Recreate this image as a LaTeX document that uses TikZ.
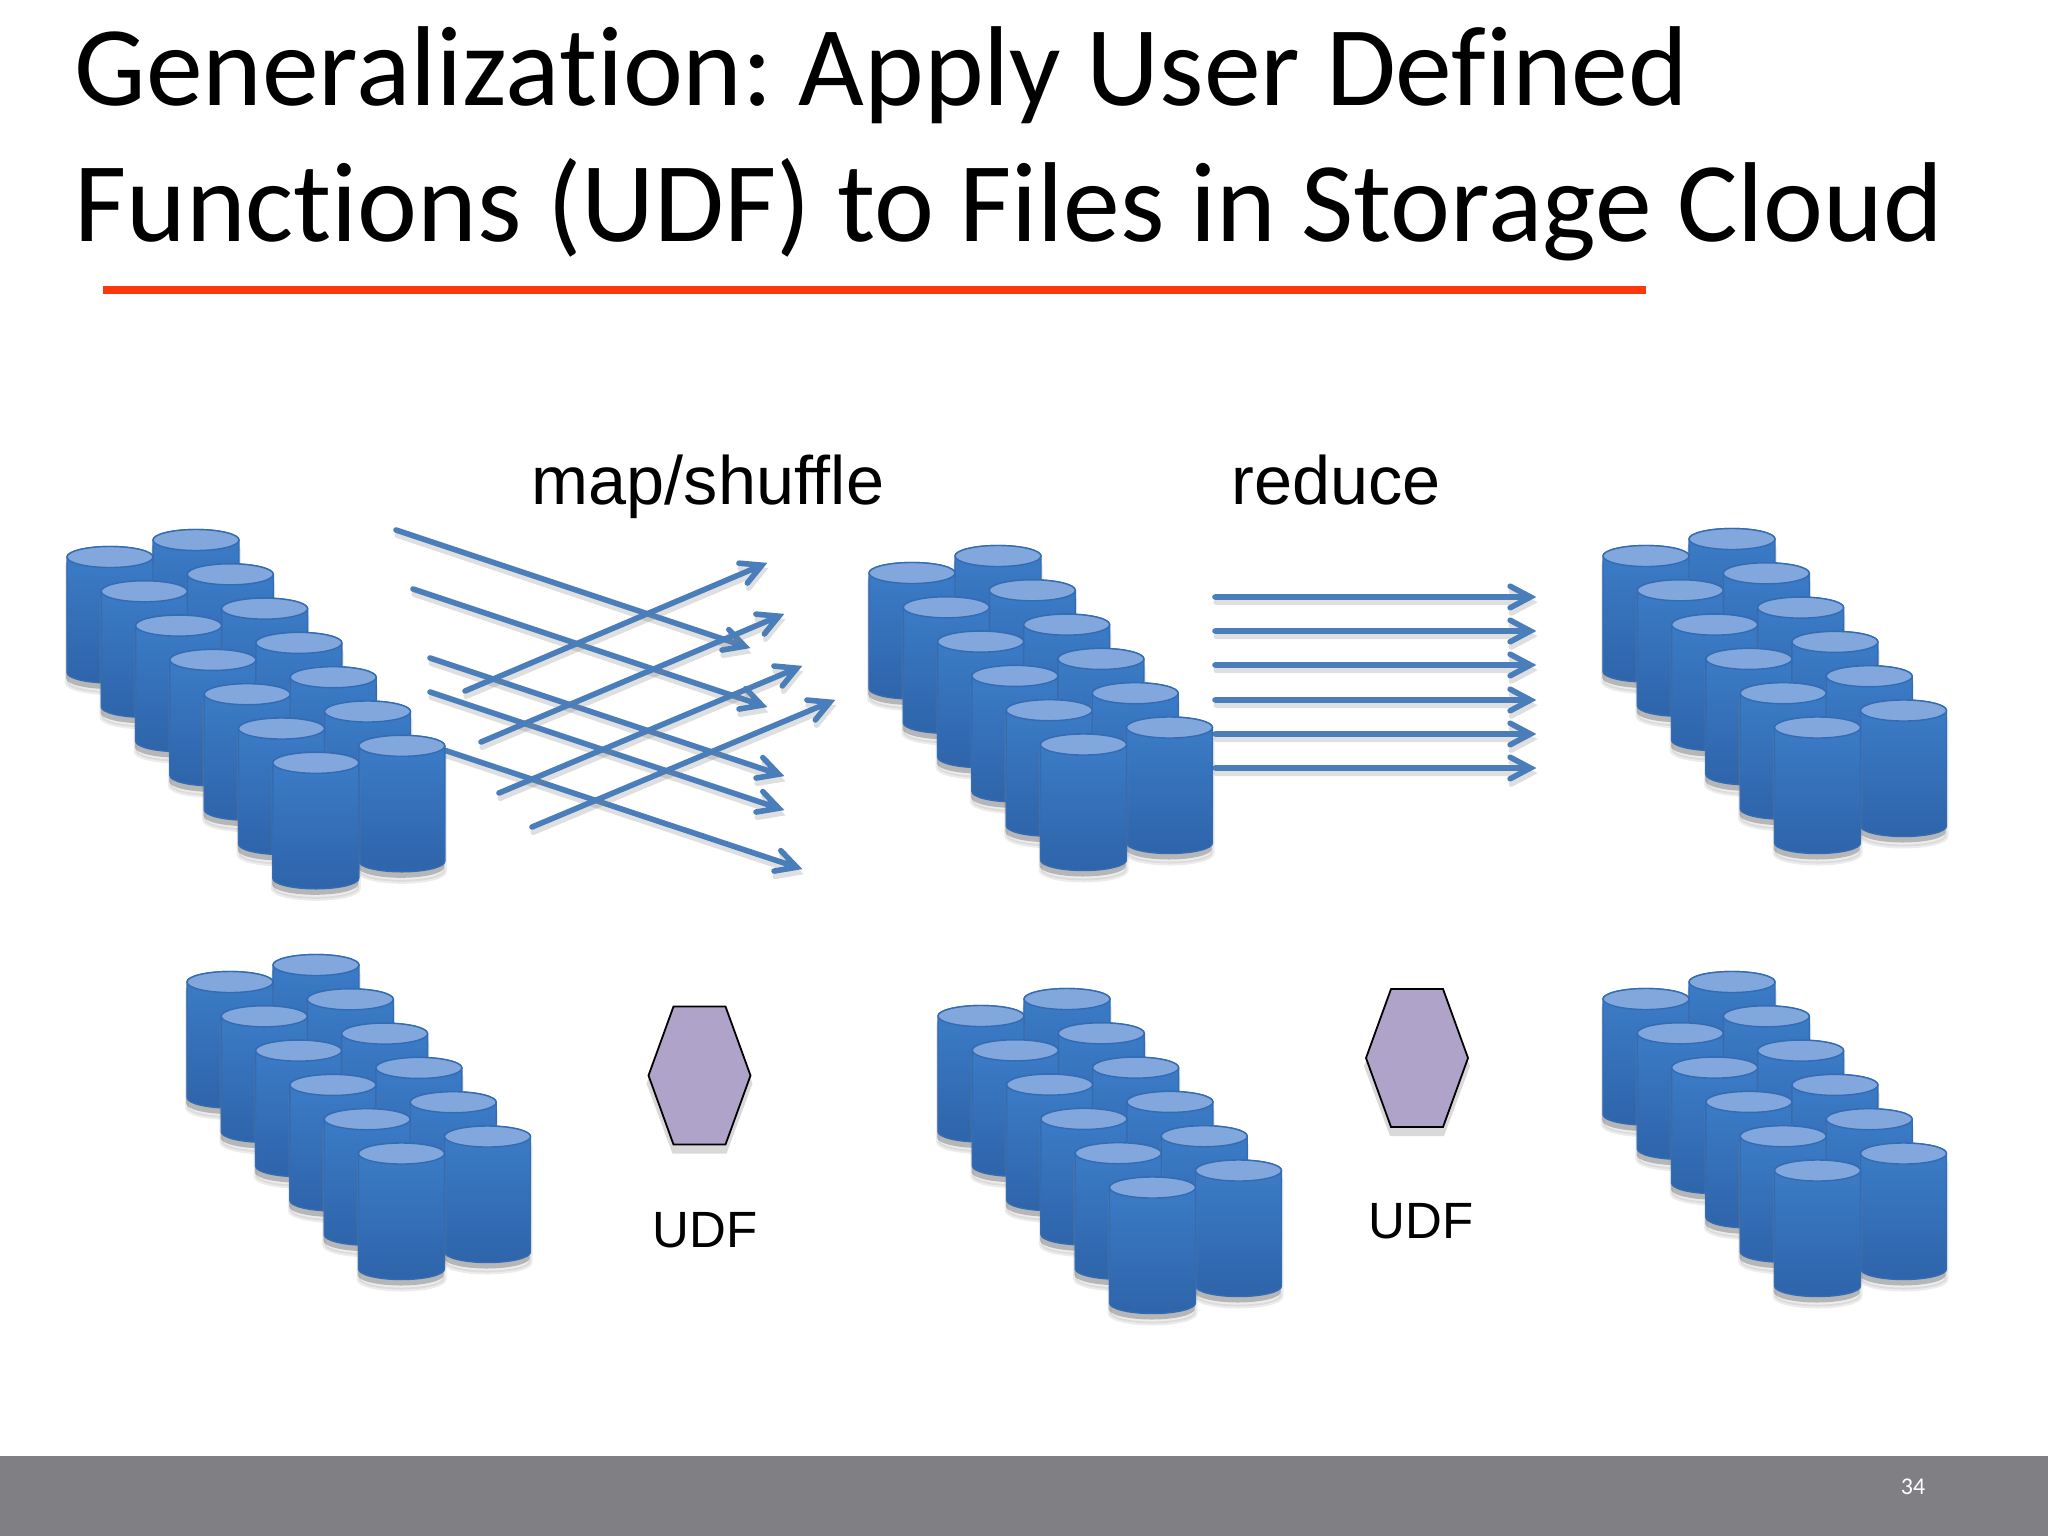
\documentclass[tikz,border=0pt]{standalone}
\usepackage{fontspec}
\setmainfont{Liberation Sans}
\newfontfamily\titlefont[Ligatures=NoCommon]{Carlito}
\usetikzlibrary{calc,positioning}
\definecolor{dfarrow}{RGB}{74,126,187}
\definecolor{dfcyltop}{RGB}{60,125,200}
\definecolor{dfcylbot}{RGB}{46,100,170}
\definecolor{dfcylcap}{RGB}{130,167,220}
\definecolor{dfrim}{RGB}{52,108,180}
\definecolor{dfudf}{RGB}{176,163,201}
\definecolor{dfrule}{RGB}{252,56,10}
\definecolor{dffooter}{RGB}{128,127,131}
\tikzstyle{arrow} = [line width=2.8pt,color=dfarrow,line cap=round,miter limit=4]
\tikzstyle{arrowshade} = [arrow,color=gray,opacity=0.25,transform canvas={shift={(0.6pt,-2.6pt)}}]
\tikzstyle{cylbody} = [top color=dfcyltop,bottom color=dfcylbot,draw=dfrim,line width=0.7pt]
\tikzstyle{cylcap} = [fill=dfcylcap,draw=dfrim,line width=0.7pt]
\tikzstyle{cylshade} = [fill=gray,opacity=0.5,transform canvas={shift={(-0.4pt,-3pt)}}]
\tikzstyle{cylblur} = [fill=gray,draw=gray,line width=2pt,opacity=0.15,transform canvas={shift={(0pt,-5pt)}}]
\tikzstyle{udfhex} = [fill=dfudf,draw=black,line width=0.9pt]
\tikzstyle{caption} = [anchor=base,font=\fontsize{34.2pt}{38pt}\selectfont]
\tikzstyle{udflabel} = [anchor=base,font=\fontsize{25.5pt}{28pt}\selectfont]
% one cylinder, top centre at (#1,#2)
\newcommand{\cylpath}[2]{(#1-43,#2) -- ++(0,115.5) arc[start angle=180,end angle=360,x radius=21.5pt,y radius=5.25pt] -- ++(0,-115.5) arc[start angle=0,end angle=180,x radius=21.5pt,y radius=5.25pt] -- cycle}
\newcommand{\onecyl}[2]{
  \path[cylblur] \cylpath{#1}{#2};
  \path[cylshade] \cylpath{#1}{#2};
  \path[cylbody] \cylpath{#1}{#2};
  \path[cylcap] (#1,#2) ellipse[x radius=21.5pt,y radius=5.25pt];
}
% double row of cylinders going down to the right
\newcommand{\cylstack}[3]{
  \foreach \k in {1,...,#3} {
    \pgfmathsetmacro{\px}{#1+(\k-1)*34.3}
    \pgfmathsetmacro{\py}{#2+(\k-1)*34.3}
    \onecyl{\px+86}{\py-17}
    \onecyl{\px}{\py}
  }
}
% hexagon around its centre
\newcommand{\udfshape}[2]{
  \fill[gray,opacity=0.3] (#1-26,#2-60) -- (#1+26,#2-60) -- (#1+53,#2+8) -- (#1+27,#2+78) -- (#1-27,#2+78) -- (#1-53,#2+8) -- cycle;
  \draw[udfhex] (#1-26,#2-69) -- (#1+26,#2-69) -- (#1+51,#2) -- (#1+26,#2+69) -- (#1-26,#2+69) -- (#1-51,#2) -- cycle;
}

\begin{document}
\begin{tikzpicture}[x=0.5pt,y=-0.5pt]
\useasboundingbox (0,0) rectangle (2048,1536);

% Title
\node[anchor=north west,inner sep=0pt,align=left,
  font=\titlefont\frenchspacing\fontsize{56.8pt}{68pt}\selectfont] (title) at (74,26)
  {Generalization: Apply User Defined\\Functions (UDF) to Files in Storage Cloud};
\fill[dfrule] (103,286) rectangle (1646,294);

% Captions
\node[caption] (mapcap) at (708,504) {map/shuffle};
\node[caption] (redcap) at (1336,504) {reduce};

% Arrows, map/shuffle first
\foreach \n/\xa/\ya/\xb/\yb in {d1/396/530/750/648,d2/413/589/767/707,d3/430/658/784/776,d4/430/692/784/810,d5/444/750/802/869,
  u1/465/691/767/563,u2/481/742/784/614,u3/499/793/802/666,u4/532/827/835/700,
  r1/1215/597/1536/597,r2/1215/631/1536/631,r3/1215/665/1536/665,r4/1215/700/1536/700,r5/1215/734/1536/734,r6/1215/768/1536/768} {
  \coordinate (from\n) at (\xa,\ya);
  \coordinate (to\n) at (\xb,\yb);
  \coordinate (tip\n) at ($(to\n)!2.8pt!(from\n)$);
  \coordinate (wingl\n) at ($(tip\n)!11.5pt!28:(from\n)$);
  \coordinate (wingr\n) at ($(tip\n)!11.5pt!-28:(from\n)$);
  \draw[arrowshade] (from\n) -- (tip\n) (wingl\n) -- (tip\n) -- (wingr\n);
  \draw[arrow] (from\n) -- (tip\n) (wingl\n) -- (tip\n) -- (wingr\n);
}

% Top row of storage
\cylstack{110}{557}{7}
\cylstack{912}{573}{6}
\cylstack{1646}{556}{6}

% Bottom row of storage
\cylstack{230}{982}{6}
\cylstack{981}{1016}{6}
\cylstack{1646}{999}{6}

% UDFs
\udfshape{699.5}{1075.5}
\udfshape{1417}{1058}
\node[udflabel] (udfa) at (705,1247) {UDF};
\node[udflabel] (udfb) at (1421,1238) {UDF};

% Footer
\fill[dffooter] (0,1456) rectangle (2048,1536);
\node[text=white,font=\titlefont\fontsize{12pt}{14pt}\selectfont] (pageno) at (1913,1487) {34};
\end{tikzpicture}
\end{document}
